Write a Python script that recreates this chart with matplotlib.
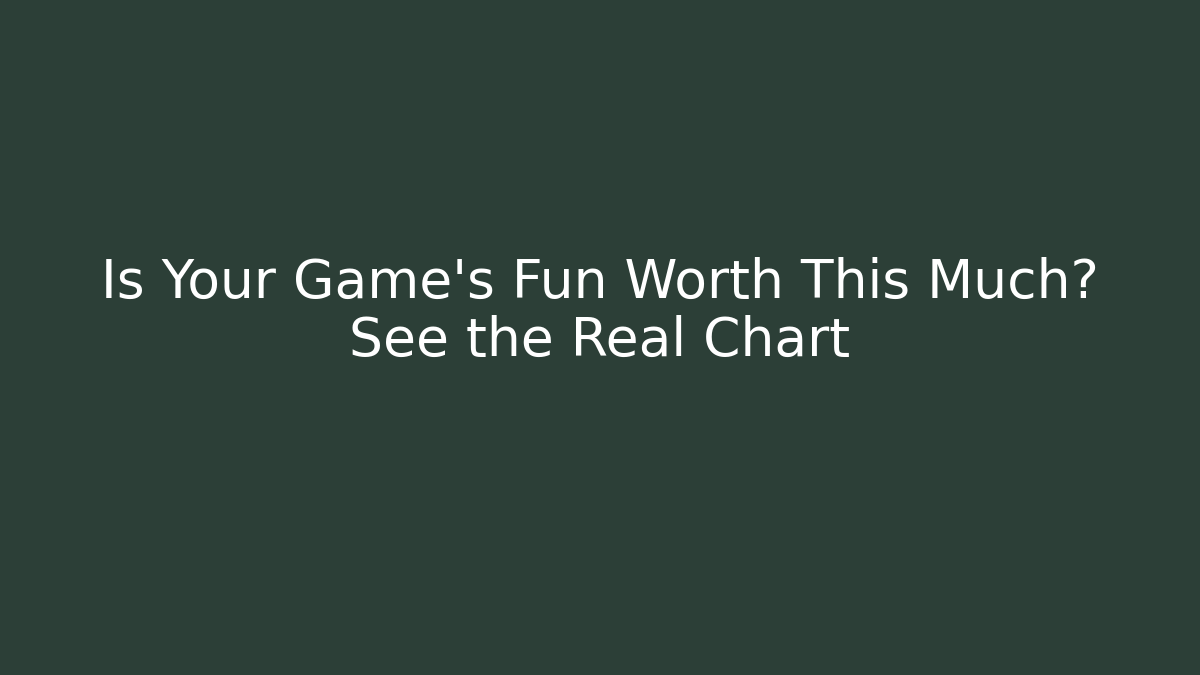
import matplotlib.pyplot as plt

title_lines = ["Is Your Game's Fun Worth This Much?", "See the Real Chart"]
bg_color = "#2c3f37"
text_color = "#ffffff"

fig = plt.figure(figsize=(12, 6.75), dpi=100)
fig.patch.set_facecolor(bg_color)

fig.text(0.5, 1 - 312 / 675, "\n".join(title_lines), ha="center", va="center",
         fontsize=38.5, color=text_color, family="DejaVu Sans", linespacing=1.13)

fig.savefig("out.png", dpi=100, facecolor=bg_color)
